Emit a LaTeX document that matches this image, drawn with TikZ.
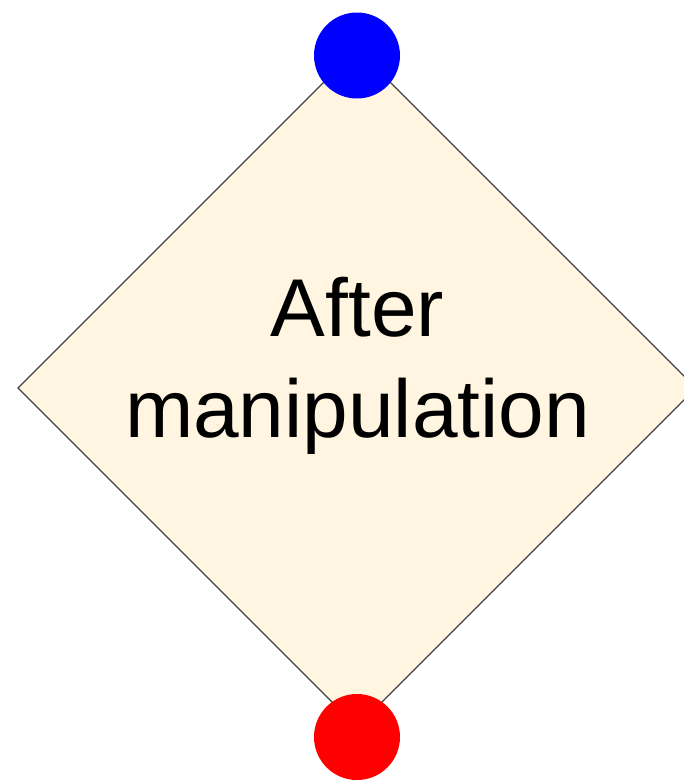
\documentclass[tikz,border=0pt]{standalone}
\usepackage{fontspec}
\setmainfont{Liberation Sans}
\definecolor{cream}{RGB}{255,245,225}
\definecolor{edgegray}{RGB}{68,68,68}
\begin{document}
\begin{tikzpicture}[x=1pt,y=-1pt,
  dot/.style={circle,inner sep=0pt,outer sep=0pt,minimum size=86pt,draw=none},
  label/.style={align=center,font=\fontsize{82pt}{101pt}\selectfont,inner sep=0pt,text=black}]
\useasboundingbox (0,0) rectangle (684,780);
\clip (0,0) rectangle (684,780);
\coordinate (t) at (357,49);
\coordinate (r) at (696,388);
\coordinate (b) at (357,727);
\coordinate (l) at (18,388);
\draw[edgegray,line width=1.3pt,fill=cream,line join=miter] (t) -- (r) -- (b) -- (l) -- cycle;
\node[label] (txt) at (357.5,366) {After\\manipulation};
\node[dot,fill={rgb,255:red,0;green,0;blue,255}] (top) at (357,55.5) {};
\node[dot,fill={rgb,255:red,255;green,0;blue,0}] (bot) at (357,737) {};
\end{tikzpicture}
\end{document}
